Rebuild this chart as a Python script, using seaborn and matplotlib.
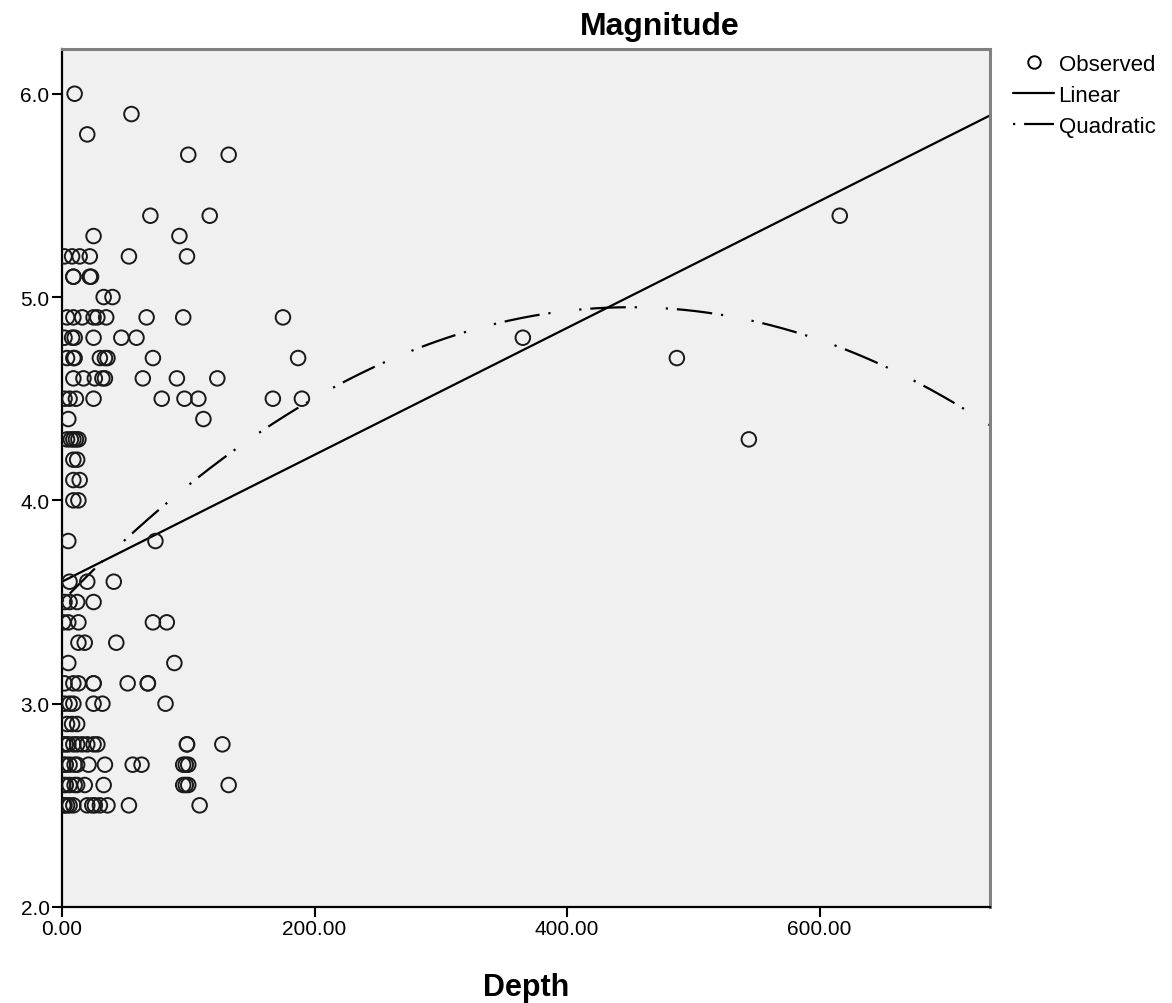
import numpy as np
import pandas as pd
import matplotlib
matplotlib.use("Agg")
import matplotlib.pyplot as plt
import seaborn as sns
from matplotlib.lines import Line2D

# Observed points, one list per magnitude level (depth values)
mag_levels = [6.0, 5.9, 5.8, 5.7, 5.4, 5.3, 5.2, 5.1, 5.0, 4.9, 4.8, 4.7, 4.6, 4.5,
              4.4, 4.3, 4.2, 4.1, 4.0, 3.8, 3.6, 3.5, 3.4, 3.3, 3.2, 3.1, 3.0, 2.9,
              2.8, 2.7, 2.6, 2.5]
depths_per_level = [
    [10],
    [55],
    [20],
    [100, 132],
    [70, 117, 616],
    [25, 93],
    [2, 8, 14, 22, 53, 99],
    [9, 9, 22, 23],
    [33, 40],
    [4, 9, 16, 25, 28, 35, 67, 96, 175],
    [2, 8, 10, 25, 47, 59, 365],
    [4, 9, 10, 30, 34, 36, 72, 187, 487],
    [9, 17, 26, 32, 34, 64, 91, 123],
    [2, 6, 11, 25, 79, 97, 108, 167, 190],
    [5, 112],
    [4, 7, 9, 11, 13, 544],
    [9, 12],
    [9, 14],
    [9, 13],
    [5, 74],
    [6, 20, 41],
    [2, 6, 12, 25],
    [1, 5, 13, 72, 83],
    [13, 18, 43],
    [5, 89],
    [2, 9, 13, 25, 25, 52, 68, 68],
    [2, 6, 9, 25, 32, 82],
    [4, 8, 12],
    [1, 3, 5, 9, 12, 16, 20, 25, 28, 99, 99, 127],
    [1, 3, 6, 10, 12, 21, 34, 56, 63, 96, 98, 100],
    [1, 3, 6, 10, 12, 18, 33, 96, 98, 100, 132],
    [1, 2, 4, 6, 9, 20, 24, 26, 30, 36, 53, 109],
]

# Fitted curve coefficients
linear_coef = [3.60, 0.00312]                 # b0, b1
quad_peak_depth, quad_peak_mag, quad_curv = 450.0, 4.95, 7.15e-6

x_max = 735
y_min, y_max = 2.0, 6.22
x_ticks = [0, 200, 400, 600]
y_ticks = [2.0, 3.0, 4.0, 5.0, 6.0]

obs = pd.DataFrame(
    [(d, m) for m, ds in zip(mag_levels, depths_per_level) for d in ds],
    columns=["Depth", "Magnitude"],
)

grid = np.linspace(0, x_max, 300)
fits = pd.DataFrame({
    "Depth": grid,
    "Linear": linear_coef[0] + linear_coef[1] * grid,
    "Quadratic": quad_peak_mag - quad_curv * (grid - quad_peak_depth) ** 2,
})

sns.set_style("white")
plt.rcParams["font.family"] = ["Liberation Sans", "DejaVu Sans"]
plt.rcParams["text.color"] = "black"
plt.rcParams["xtick.color"] = "black"
plt.rcParams["ytick.color"] = "black"
plt.rcParams["axes.labelcolor"] = "black"

fig = plt.figure(figsize=(11.72, 10.04), dpi=100)
ax = fig.add_axes([62 / 1172, 1 - 908 / 1004, 928 / 1172, 858 / 1004])
ax.set_facecolor("#f0f0f0")

sns.scatterplot(data=obs, x="Depth", y="Magnitude", ax=ax, marker="o", s=110,
                facecolor="none", edgecolor="#1a1a1a", linewidth=1.4, legend=False,
                zorder=3)
sns.lineplot(data=fits, x="Depth", y="Linear", ax=ax, color="black", lw=1.6, zorder=2)
quad_dash = (0, (1, 4, 16, 4, 1, 13))
sns.lineplot(data=fits, x="Depth", y="Quadratic", ax=ax, color="black", lw=1.6,
             linestyle=quad_dash, zorder=2)

ax.set_xlim(0, x_max)
ax.set_ylim(y_min, y_max)
ax.set_xticks(x_ticks)
ax.set_xticklabels([f"{v:.2f}" for v in x_ticks])
ax.set_yticks(y_ticks)
ax.set_yticklabels([f"{v:.1f}" for v in y_ticks])
ax.tick_params(axis="both", direction="out", length=7, width=1.5, color="black",
               labelsize=15, labelcolor="black", pad=2, left=True, bottom=True)
ax.set_xlabel("Depth", fontsize=22, fontweight="bold", labelpad=24, color="black")
ax.set_ylabel("")

for side in ["left", "bottom"]:
    ax.spines[side].set_color("black")
    ax.spines[side].set_linewidth(1.6)
for side in ["top", "right"]:
    ax.spines[side].set_color("#808080")
    ax.spines[side].set_linewidth(2.2)

fig.text(660 / 1172, 1 - 27 / 1004, "Magnitude", ha="center", va="center",
         fontsize=23, fontweight="bold", color="black")

handles = [
    Line2D([], [], marker="o", linestyle="none", markerfacecolor="none",
           markeredgecolor="black", markersize=9, markeredgewidth=1.4),
    Line2D([], [], color="black", lw=1.6),
    Line2D([], [], color="black", lw=1.6, linestyle=quad_dash),
]
leg = fig.legend(handles, ["Observed", "Linear", "Quadratic"], loc="upper left",
                 bbox_to_anchor=(1013 / 1172, 1 - 55 / 1004), frameon=False,
                 fontsize=16, handlelength=1.85, handletextpad=0.2, labelspacing=0.45,
                 borderpad=0, borderaxespad=0)
for t in leg.get_texts():
    t.set_color("black")

fig.savefig("out.png", dpi=100)
